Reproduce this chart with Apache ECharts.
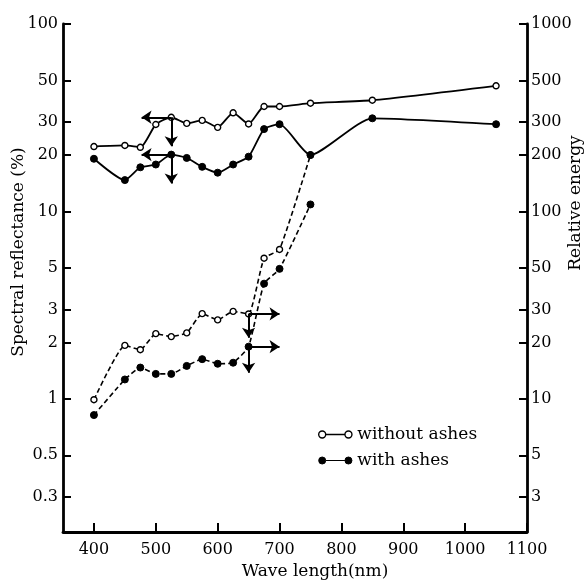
<!DOCTYPE html>
<html>
<head>
<meta charset="utf-8">
<script src="https://cdn.jsdelivr.net/npm/echarts@6/dist/echarts.min.js"></script>
<style>
    html, body { margin: 0; padding: 0; background: #fff; }
    #chart { width: 584px; height: 583px; }
</style>
</head>
<body>
<div id="chart"></div>
<script>
    // wave length (nm)
    var waveRefl = [400, 450, 475, 500, 525, 550, 575, 600, 625, 650, 675, 700, 750, 850, 1050]
    var waveEnergy = [400, 450, 475, 500, 525, 550, 575, 600, 625, 650, 675, 700, 750]

    // spectral reflectance (%) - left axis
    var reflWithout = [22.2, 22.5, 22.0, 29.1, 31.8, 29.5, 30.6, 28.1, 33.6, 29.3, 36.3, 36.3, 37.8, 39.2, 46.8]
    var reflWith = [19.1, 14.7, 17.2, 17.8, 20.1, 19.3, 17.3, 16.1, 17.8, 19.6, 27.5, 29.2, 20.0, 31.4, 29.2]

    // relative energy - right axis
    var energyWithout = [9.9, 19.3, 18.3, 22.3, 21.5, 22.5, 28.5, 26.4, 29.3, 28.4, 56.3, 62.7, 200]
    var energyWith = [8.2, 12.7, 14.7, 13.6, 13.6, 15.0, 16.3, 15.4, 15.6, 19.0, 41.2, 49.4, 109]

    // tick labels
    var xTicks = [400, 500, 600, 700, 800, 900, 1000, 1100]
    var leftTicks = [0.3, 0.5, 1, 2, 3, 5, 10, 20, 30, 50, 100]
    var rightTicks = [3, 5, 10, 20, 30, 50, 100, 200, 300, 500, 1000]

    // arrows: [x0, y0, x1, y1] in data units
    var arrowsRefl = [
        [525, 31.8, 477, 31.8], [525, 31.8, 525, 22.3],
        [525, 20.1, 477, 20.1], [525, 20.1, 525, 14.1]
    ]
    var arrowsEnergy = [
        [650, 28.4, 700, 28.4], [650, 28.4, 650, 21.2],
        [650, 19.0, 700, 19.0], [650, 19.0, 650, 13.8]
    ]

    function pairs(xs, ys) {
        return xs.map(function (x, i) { return [x, ys[i]] })
    }
    function arrowLines(list) {
        return list.map(function (a) {
            return [{ coord: [a[0], a[1]] }, { coord: [a[2], a[3]] }]
        })
    }

    var font = 'DejaVu Serif'
    var legendIcon = 'path://M0,4A4,4,0,1,1,8,4A4,4,0,1,1,0,4ZM8,4L30,4M30,4A4,4,0,1,1,38,4A4,4,0,1,1,30,4Z'

    var openStyle = { color: '#fff', borderColor: '#000', borderWidth: 1.4 }
    var fillStyle = { color: '#000', borderColor: '#000', borderWidth: 1 }

    var arrowMark = function (list) {
        return {
            silent: true,
            symbol: ['none', 'arrow'],
            symbolSize: 10,
            label: { show: false },
            lineStyle: { color: '#000', width: 2, type: 'solid' },
            itemStyle: { color: '#000' },
            emphasis: { disabled: true },
            data: arrowLines(list)
        }
    }

    var numFmt = function (v) { return String(v) }

    var yAxisBase = {
        type: 'log',
        logBase: 10,
        splitLine: { show: false },
        axisLine: { show: true, onZero: false, lineStyle: { color: '#000', width: 2.8 } },
        axisTick: { show: true, inside: true, length: 8, lineStyle: { color: '#000', width: 2 } },
        nameLocation: 'middle',
        nameRotate: 90,
        nameMoveOverlap: false
    }

    var myChart = echarts.init(document.getElementById('chart'))
    var options = {
        animation: false,
        backgroundColor: '#fff',
        grid: { left: 63, right: 57, top: 24, bottom: 51, containLabel: false, outerBoundsMode: 'none' },
        legend: {
            left: 313,
            top: 421,
            orient: 'vertical',
            itemWidth: 34,
            itemHeight: 7,
            itemGap: 9,
            selectedMode: false,
            textStyle: { fontFamily: font, fontSize: 17, color: '#000' },
            data: [
                { name: 'without ashes', icon: legendIcon, itemStyle: openStyle },
                { name: 'with ashes', icon: legendIcon, itemStyle: fillStyle }
            ]
        },
        xAxis: {
            type: 'value',
            min: 350,
            max: 1100,
            name: 'Wave length(nm)',
            nameLocation: 'middle',
            nameGap: 29,
            nameTextStyle: { fontFamily: font, fontSize: 17, color: '#000', padding: [0, 0, 0, 40] },
            splitLine: { show: false },
            axisLine: { show: true, onZero: false, lineStyle: { color: '#000', width: 2.8 } },
            axisTick: { show: true, inside: true, length: 9, customValues: xTicks, lineStyle: { color: '#000', width: 2 } },
            axisLabel: { customValues: xTicks, margin: 10, formatter: numFmt, fontFamily: font, fontSize: 16, color: '#000' }
        },
        yAxis: [
            Object.assign({}, yAxisBase, {
                position: 'left',
                min: 0.195,
                max: 100,
                name: 'Spectral reflectance (%)',
                nameGap: 36,
                nameTextStyle: { fontFamily: font, fontSize: 17, color: '#000', padding: [0, 0, 0, 52] },
                axisTick: Object.assign({}, yAxisBase.axisTick, { customValues: leftTicks }),
                axisLabel: { customValues: leftTicks, margin: 5, formatter: numFmt, fontFamily: font, fontSize: 16, color: '#000' }
            }),
            Object.assign({}, yAxisBase, {
                position: 'right',
                min: 1.95,
                max: 1000,
                name: 'Relative energy',
                nameGap: 40,
                nameTextStyle: { fontFamily: font, fontSize: 17, color: '#000', padding: [0, 0, 0, 150] },
                axisTick: Object.assign({}, yAxisBase.axisTick, { customValues: rightTicks }),
                axisLabel: { customValues: rightTicks, margin: 4, formatter: numFmt, fontFamily: font, fontSize: 16, color: '#000' }
            })
        ],
        series: [
            {
                name: 'without ashes',
                type: 'line',
                yAxisIndex: 1,
                smooth: 0.15,
                symbol: 'circle',
                symbolSize: 6,
                itemStyle: openStyle,
                lineStyle: { color: '#000', width: 1.6, type: [5, 3] },
                data: pairs(waveEnergy, energyWithout),
                markLine: arrowMark(arrowsEnergy)
            },
            {
                name: 'with ashes',
                type: 'line',
                yAxisIndex: 1,
                smooth: 0.15,
                symbol: 'circle',
                symbolSize: 7,
                itemStyle: fillStyle,
                lineStyle: { color: '#000', width: 1.6, type: [5, 3] },
                data: pairs(waveEnergy, energyWith)
            },
            {
                name: 'without ashes',
                type: 'line',
                yAxisIndex: 0,
                smooth: 0.2,
                symbol: 'circle',
                symbolSize: 6,
                itemStyle: openStyle,
                lineStyle: { color: '#000', width: 1.8 },
                data: pairs(waveRefl, reflWithout),
                markLine: arrowMark(arrowsRefl)
            },
            {
                name: 'with ashes',
                type: 'line',
                yAxisIndex: 0,
                smooth: 0.2,
                symbol: 'circle',
                symbolSize: 7,
                itemStyle: fillStyle,
                lineStyle: { color: '#000', width: 1.8 },
                data: pairs(waveRefl, reflWith)
            }
        ]
    }
    myChart.setOption(options)
</script>
</body>
</html>
